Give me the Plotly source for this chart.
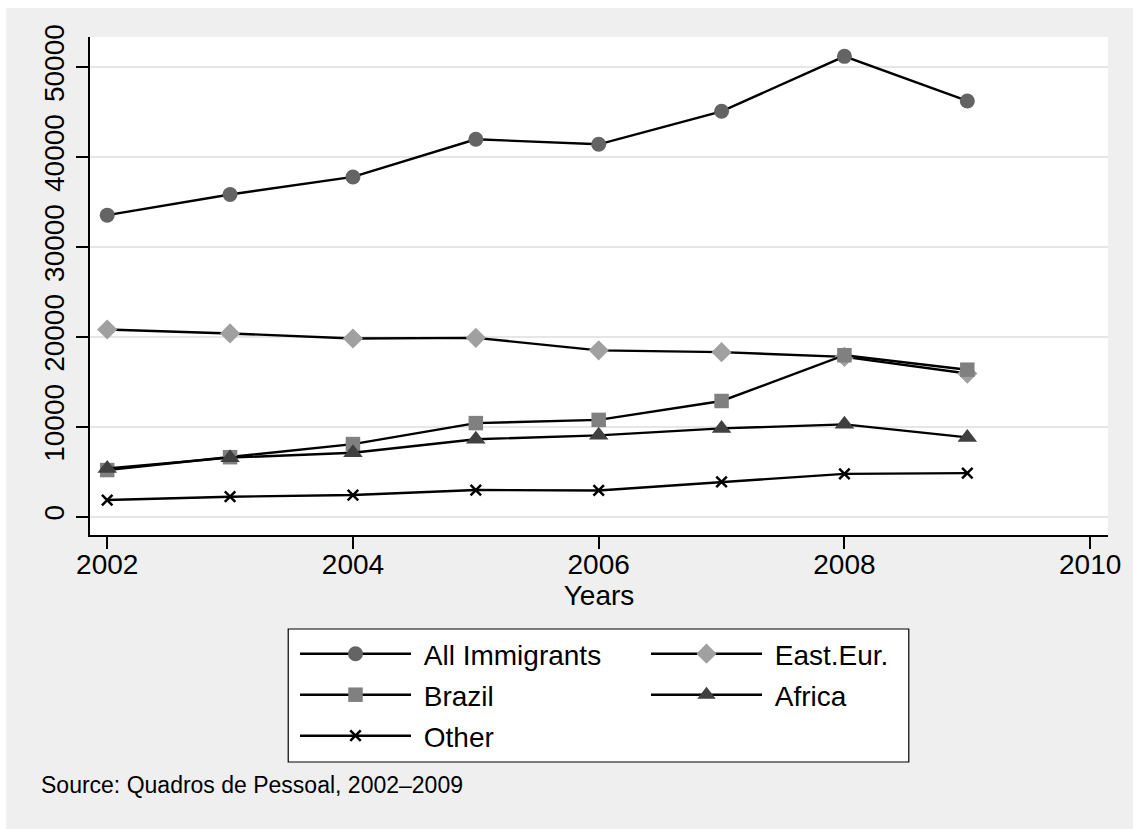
import plotly.graph_objects as go

years = [2002, 2003, 2004, 2005, 2006, 2007, 2008, 2009]
all_immigrants = [33560, 35860, 37810, 42000, 41440, 45110, 51220, 46260]
east_eur = [20850, 20410, 19850, 19920, 18530, 18330, 17800, 15950]
brazil = [5220, 6650, 8110, 10440, 10800, 12900, 17990, 16380]
africa = [5400, 6600, 7140, 8650, 9080, 9850, 10300, 8850]
other = [1890, 2260, 2440, 3000, 2950, 3900, 4800, 4880]

series_names = ["All Immigrants", "East.Eur.", "Brazil", "Africa", "Other"]

x_ticks = [2002, 2004, 2006, 2008, 2010]
y_ticks = [0, 10000, 20000, 30000, 40000, 50000]

FONT = "Liberation Sans, Arial, Helvetica, sans-serif"
BG = "#efefef"

styles = [
    ("circle", 15, "#646464"),
    ("diamond", 15.5, "#a0a0a0"),
    ("square", 14.5, "#808080"),
    ("triangle-up", 17, "#404040"),
    ("x-thin", 10.5, "#000000"),
]
values = [all_immigrants, east_eur, brazil, africa, other]
legend_rows = ["legend", "legend", "legend2", "legend2", "legend3"]

fig = go.Figure()
for name, vals, (sym, size, col), lg in zip(series_names, values, styles, legend_rows):
    marker = dict(symbol=sym, size=size, color=col)
    if sym == "x-thin":
        marker["line"] = dict(color="#000000", width=2.5)
    fig.add_trace(go.Scatter(
        x=years, y=vals, name="\u00a0" + name, mode="lines+markers",
        line=dict(color="#000000", width=2.4),
        marker=marker, legend=lg,
    ))

W, H = 1133, 829
L, T = 90, 37
PLOT_RIGHT, PLOT_BOTTOM = 1112, 535
R = W - PLOT_RIGHT
B = H - PLOT_BOTTOM
pw = W - L - R
ph = H - T - B

def cx(px):
    return (px - L) / pw

def cy(py):
    return (H - B - py) / ph

shapes = [
    # gray outer panel with a thin white rim at top and left
    dict(type="rect", xref="paper", yref="paper", layer="below",
         x0=cx(6), x1=cx(W + 5), y0=cy(H + 5), y1=cy(8),
         fillcolor=BG, line=dict(width=0)),
    # white plot region
    dict(type="rect", xref="paper", yref="paper", layer="below",
         x0=0, x1=1, y0=0, y1=1,
         fillcolor="white", line=dict(width=0)),
    # legend box
    dict(type="rect", xref="paper", yref="paper", layer="below",
         x0=cx(289), x1=cx(912), y0=cy(762), y1=cy(629),
         fillcolor="white", line=dict(color="#000000", width=1.2)),
]

def legend_at(top_px):
    return dict(
        orientation="h",
        xref="container", yref="container",
        x=295 / W, xanchor="left",
        y=1 - top_px / H, yanchor="top",
        bgcolor="rgba(0,0,0,0)", borderwidth=0,
        font=dict(family=FONT, size=28, color="#000000"),
        itemwidth=111,
        entrywidth=225, entrywidthmode="pixels",
        traceorder="normal",
        itemsizing="trace",
    )

fig.update_layout(
    width=W, height=H,
    margin=dict(l=L, r=R, t=T, b=B, pad=0),
    paper_bgcolor="white",
    plot_bgcolor="rgba(0,0,0,0)",
    font=dict(family=FONT, size=28, color="#000000"),
    shapes=shapes,
    showlegend=True,
    legend=legend_at(629),
    legend2=legend_at(670),
    legend3=legend_at(711),
    annotations=[
        dict(text="Source: Quadros de Pessoal, 2002\u20132009",
             xref="paper", yref="paper",
             x=cx(39), y=cy(784.5),
             xanchor="left", yanchor="middle", showarrow=False,
             font=dict(family=FONT, size=23, color="#000000")),
    ],
)

fig.update_xaxes(
    range=[2001.86, 2010.145],
    tickvals=x_ticks,
    ticktext=[str(v) for v in x_ticks],
    ticks="outside", ticklen=12, tickwidth=1.5, tickcolor="#000000",
    showline=True, linecolor="#000000", linewidth=1.5,
    showgrid=False, zeroline=False,
    ticklabelstandoff=-8,
    title=dict(text="Years", font=dict(family=FONT, size=28), standoff=4),
    tickfont=dict(family=FONT, size=28),
)
fig.update_yaxes(
    range=[-2000, 53370],
    tickvals=y_ticks,
    ticktext=[str(v) for v in y_ticks],
    ticks="outside", ticklen=12, tickwidth=1.5, tickcolor="#000000",
    showline=True, linecolor="#000000", linewidth=1.5,
    showgrid=True, gridcolor="#e6e6e6", gridwidth=2,
    zeroline=False,
    tickangle=-90,
    ticklabelstandoff=1,
    tickfont=dict(family=FONT, size=28),
)

post = (
    "document.body.style.margin='0';"
    "document.body.style.overflow='hidden';"
    "document.documentElement.style.overflow='hidden';"
)
fig.write_html("out.html", post_script=post, config={"displayModeBar": False})
